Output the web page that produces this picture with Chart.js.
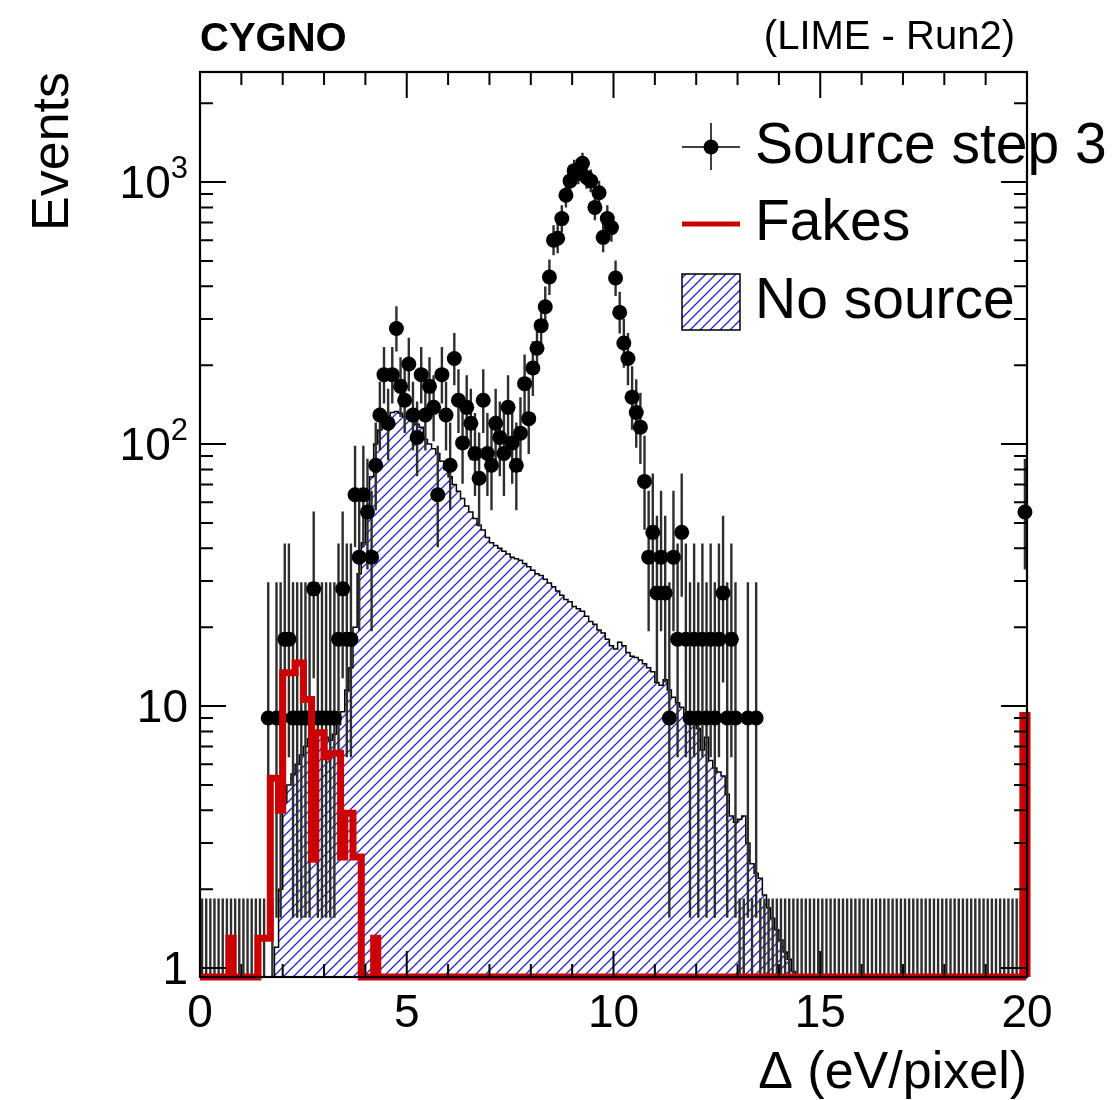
<!DOCTYPE html>
<html>
<head>
<meta charset="utf-8">
<title>CYGNO - LIME Run2</title>
<script src="https://cdn.jsdelivr.net/npm/chart.js@4.4.0/dist/chart.umd.min.js"></script>
<style>
    html, body { margin: 0; padding: 0; background: #fff; }
    #wrap { width: 1113px; height: 1100px; }
</style>
</head>
<body>
<div id="wrap"><canvas id="deltaChart" width="1113" height="1100"></canvas></div>
<script>
// Binning of the histograms: 200 bins of 0.1 eV/pixel from 0 to 20
const binLow = 0;
const binWidth = 0.1;
const nBins = 200;

// Source step 3 (weighted events per bin)
const sourceStep3 = [
    0, 0, 0, 0, 0, 0, 0, 0, 0, 0,
    0, 0, 0, 0, 0, 0, 9, 0, 9, 9,
    18, 18, 9, 9, 9, 9, 9, 28, 9, 9,
    9, 9, 9, 18, 28, 18, 18, 64, 37, 64,
    55, 37, 83, 129, 184, 120, 184, 276, 166, 147,
    202, 129, 106, 184, 129, 166, 138, 64, 184, 129,
    83, 212, 147, 101, 138, 120, 92, 74, 147, 92,
    83, 120, 106, 92, 138, 101, 83, 110, 170, 125,
    195, 232, 283, 334, 434, 600, 610, 725, 890, 1010,
    1105, 1080, 1180, 1040, 1010, 800, 910, 615, 725, 670,
    430, 318, 243, 212, 151, 132, 116, 72, 37, 46,
    27, 37, 27, 9, 37, 18, 46, 18, 9, 18,
    9, 18, 9, 18, 9, 18, 27, 9, 18, 9,
    0, 0, 9, 0, 9, 0, 0, 0, 0, 0,
    0, 0, 0, 0, 0, 0, 0, 0, 0, 0,
    0, 0, 0, 0, 0, 0, 0, 0, 0, 0,
    0, 0, 0, 0, 0, 0, 0, 0, 0, 0,
    0, 0, 0, 0, 0, 0, 0, 0, 0, 0,
    0, 0, 0, 0, 0, 0, 0, 0, 0, 0,
    0, 0, 0, 0, 0, 0, 0, 0, 0, 55
];

// No source (normalised background)
const noSource = [
    0, 0, 0, 0, 0, 0, 0, 0, 0, 0,
    0, 0, 0, 0, 0, 0, 0, 0, 1.2, 2.0,
    4.3, 5.0, 5.5, 6.0, 6.5, 7.0, 7.5, 7.8, 8.0, 8.0,
    7.6, 7.4, 7.8, 8.5, 9.5, 11.5, 14, 20, 32, 42,
    58, 75, 100, 113, 122, 128, 132, 133, 131, 127,
    125, 122, 119, 116, 104, 100, 96, 92, 86, 80,
    75, 70, 66, 62, 58, 55, 52, 49, 47, 44,
    42, 41, 40, 39, 38, 37, 36.5, 36, 35, 34,
    33, 32, 31.5, 30.5, 29.5, 28.5, 27.5, 26.5, 25.5, 25,
    24, 23.5, 23, 22, 21, 20.5, 19.5, 19, 18, 17,
    16.5, 17.5, 17, 16, 15.5, 15.3, 15, 14.5, 14, 13.5,
    12.3, 12, 12.6, 11.5, 10.8, 10.3, 9.9, 9.3, 8.8, 8.5,
    8.2, 6.8, 7.6, 6.2, 5.8, 5.6, 5.4, 4.6, 3.8, 3.6,
    3.7, 3.8, 3.0, 2.5, 2.3, 2.2, 1.9, 1.7, 1.55, 1.4,
    1.28, 1.15, 1.08, 0.97, 0, 0, 0, 0, 0, 0,
    0, 0, 0, 0, 0, 0, 0, 0, 0, 0,
    0, 0, 0, 0, 0, 0, 0, 0, 0, 0,
    0, 0, 0, 0, 0, 0, 0, 0, 0, 0,
    0, 0, 0, 0, 0, 0, 0, 0, 0, 0,
    0, 0, 0, 0, 0, 0, 0, 0, 0, 8
];

// Fakes
const fakes = [
    0, 0, 0, 0, 0, 0, 0, 1.3, 0, 0,
    0, 0, 0, 0, 1.3, 1.3, 1.3, 5.3, 5.3, 4.0,
    13.4, 13.4, 13.4, 14.6, 14.6, 10.6, 10.6, 2.6, 7.9, 7.9,
    6.4, 6.6, 6.6, 6.6, 2.65, 3.9, 3.9, 2.65, 2.65, 0,
    0, 0, 1.3, 0, 0, 0, 0, 0, 0, 0,
    0, 0, 0, 0, 0, 0, 0, 0, 0, 0,
    0, 0, 0, 0, 0, 0, 0, 0, 0, 0,
    0, 0, 0, 0, 0, 0, 0, 0, 0, 0,
    0, 0, 0, 0, 0, 0, 0, 0, 0, 0,
    0, 0, 0, 0, 0, 0, 0, 0, 0, 0,
    0, 0, 0, 0, 0, 0, 0, 0, 0, 0,
    0, 0, 0, 0, 0, 0, 0, 0, 0, 0,
    0, 0, 0, 0, 0, 0, 0, 0, 0, 0,
    0, 0, 0, 0, 0, 0, 0, 0, 0, 0,
    0, 0, 0, 0, 0, 0, 0, 0, 0, 0,
    0, 0, 0, 0, 0, 0, 0, 0, 0, 0,
    0, 0, 0, 0, 0, 0, 0, 0, 0, 0,
    0, 0, 0, 0, 0, 0, 0, 0, 0, 0,
    0, 0, 0, 0, 0, 0, 0, 0, 0, 0,
    0, 0, 0, 0, 0, 0, 0, 0, 0, 9.2
];

// Per-event weight of the source sample and Poisson (Garwood) intervals
const eventWeight = 9.2;
const garwoodLow = [0, 0.173, 0.708, 1.367, 2.086, 2.840, 3.620, 4.419, 5.232, 6.057, 6.891];
const garwoodHigh = [1.841, 3.300, 4.638, 5.918, 7.163, 8.382, 9.584, 10.77, 11.95, 13.11, 14.27];

// Axes
const xMin = 0, xMax = 20;
const yMin = 0.924, yMax = 2630;
const xTickValues = [0, 5, 10, 15, 20];
const xTickLabels = ['0', '5', '10', '15', '20'];
const yTickValues = [1, 10, 100, 1000];
const yTickLabels = ['1', '10', '10', '10'];
const yTickExponents = ['', '', '2', '3'];
const legendLabels = ['Source step 3', 'Fakes', 'No source'];

const fontFamily = '"Liberation Sans", Arial, Helvetica, sans-serif';
const redColor = '#cc0000';
const hatchColor = '#2424d4';
const markerRadius = 7.5;

// Step histogram: one point per bin low edge, closing on the last edge
function histSteps(values) {
    const pts = values.map(function(v, i) {
        return { x: binLow + i * binWidth, y: v > 0 ? v : yMin };
    });
    pts.push({ x: binLow + nBins * binWidth, y: values[nBins - 1] > 0 ? values[nBins - 1] : yMin });
    pts.push({ x: binLow + nBins * binWidth, y: yMin });
    return pts;
}

// Markers at the bin centres, empty bins are not drawn
function binPoints(values) {
    return values.map(function(v, i) {
        return { x: binLow + (i + 0.5) * binWidth, y: v > 0 ? v : null };
    });
}

function makeHatch(ctx, size) {
    const c = document.createElement('canvas');
    c.width = size;
    c.height = size;
    const g = c.getContext('2d');
    g.strokeStyle = hatchColor;
    g.lineWidth = 1.3;
    g.beginPath();
    g.moveTo(0, size); g.lineTo(size, 0);
    g.moveTo(-1, 1); g.lineTo(1, -1);
    g.moveTo(size - 1, size + 1); g.lineTo(size + 1, size - 1);
    g.stroke();
    return ctx.createPattern(c, 'repeat');
}

// Vertical error bars of the source points
const errorBarPlugin = {
    id: 'errorBars',
    beforeDatasetDraw(chart, args) {
        if (args.index !== 1) return;
        const { ctx, chartArea: a } = chart;
        const x = chart.scales.x, y = chart.scales.y;
        ctx.save();
        ctx.beginPath();
        ctx.rect(a.left, a.top, a.right - a.left, a.bottom - a.top);
        ctx.clip();
        ctx.strokeStyle = '#2e2e2e';
        ctx.lineWidth = 2.4;
        ctx.beginPath();
        sourceStep3.forEach(function(v, i) {
            const n = Math.round(v / eventWeight);
            let lo, hi;
            if (n === 0) {
                lo = 0;
                hi = garwoodHigh[0];
            } else if (n < garwoodLow.length) {
                lo = v * garwoodLow[n] / n;
                hi = v * garwoodHigh[n] / n;
            } else {
                lo = v * (n - Math.sqrt(n)) / n;
                hi = v * (n + Math.sqrt(n) + 1) / n;
            }
            const px = x.getPixelForValue(binLow + (i + 0.5) * binWidth);
            ctx.moveTo(px, lo > yMin ? y.getPixelForValue(lo) : a.bottom);
            ctx.lineTo(px, y.getPixelForValue(hi));
        });
        ctx.stroke();
        ctx.restore();
    }
};

// ROOT style frame, inner ticks, labels, titles and legend
const rootStylePlugin = {
    id: 'rootStyle',
    afterDraw(chart) {
        const { ctx, chartArea: a } = chart;
        const x = chart.scales.x, y = chart.scales.y;
        const majorLen = 26, minorLen = 13;

        ctx.save();
        ctx.strokeStyle = '#000';
        ctx.lineWidth = 2;
        ctx.beginPath();
        // x ticks, bottom and top
        for (let v = xMin; v <= xMax; v += 1) {
            const px = x.getPixelForValue(v);
            const len = (v % 5 === 0) ? majorLen : minorLen;
            ctx.moveTo(px, a.bottom); ctx.lineTo(px, a.bottom - len);
            ctx.moveTo(px, a.top); ctx.lineTo(px, a.top + len);
        }
        // y ticks, left and right
        yTickValues.forEach(function(decade) {
            for (let m = 1; m <= 9; m++) {
                const v = m * decade;
                if (v < yMin || v > yMax) continue;
                const py = y.getPixelForValue(v);
                const len = m === 1 ? majorLen : minorLen;
                ctx.moveTo(a.left, py); ctx.lineTo(a.left + len, py);
                ctx.moveTo(a.right, py); ctx.lineTo(a.right - len, py);
            }
        });
        ctx.stroke();
        ctx.lineWidth = 2.2;
        ctx.strokeRect(a.left, a.top, a.right - a.left, a.bottom - a.top);

        // tick labels
        ctx.fillStyle = '#000';
        ctx.font = '46px ' + fontFamily;
        ctx.textAlign = 'center';
        ctx.textBaseline = 'alphabetic';
        xTickValues.forEach(function(v, k) {
            ctx.fillText(xTickLabels[k], x.getPixelForValue(v), a.bottom + 50);
        });
        yTickValues.forEach(function(v, k) {
            const py = y.getPixelForValue(v);
            let right = a.left - 12;
            ctx.textAlign = 'right';
            if (yTickExponents[k]) {
                ctx.font = '31px ' + fontFamily;
                ctx.fillText(yTickExponents[k], right, py - 4);
                right -= ctx.measureText(yTickExponents[k]).width;
            }
            ctx.font = '46px ' + fontFamily;
            ctx.fillText(yTickLabels[k], right, py + 16);
        });

        // axis titles
        ctx.font = '52px ' + fontFamily;
        ctx.textAlign = 'right';
        ctx.fillText('\u0394 (eV/pixel)', a.right, 1088);
        ctx.save();
        ctx.translate(68, a.top);
        ctx.rotate(-Math.PI / 2);
        ctx.fillText('Events', 0, 0);
        ctx.restore();

        // header
        ctx.font = 'bold 40px ' + fontFamily;
        ctx.textAlign = 'left';
        ctx.fillText('CYGNO', a.left, 51);
        ctx.font = '40px ' + fontFamily;
        ctx.textAlign = 'right';
        ctx.fillText('(LIME - Run2)', 1015, 49);

        // legend
        const symL = 682, symR = 740, symC = 711;
        ctx.strokeStyle = '#000';
        ctx.lineWidth = 1.5;
        ctx.beginPath();
        ctx.moveTo(symL, 147); ctx.lineTo(symR, 147);
        ctx.moveTo(symC, 123); ctx.lineTo(symC, 170);
        ctx.stroke();
        ctx.beginPath();
        ctx.arc(symC, 147, markerRadius, 0, Math.PI * 2);
        ctx.fillStyle = '#000';
        ctx.fill();

        ctx.strokeStyle = redColor;
        ctx.lineWidth = 5;
        ctx.beginPath();
        ctx.moveTo(symL, 224); ctx.lineTo(symR, 224);
        ctx.stroke();

        ctx.fillStyle = chart.data.datasets[2].backgroundColor;
        ctx.fillRect(symL, 274, symR - symL, 56);
        ctx.strokeStyle = '#000';
        ctx.lineWidth = 1.5;
        ctx.strokeRect(symL, 274, symR - symL, 56);

        ctx.fillStyle = '#000';
        ctx.font = '57px ' + fontFamily;
        ctx.textAlign = 'left';
        ctx.fillText(legendLabels[0], 755, 163);
        ctx.fillText(legendLabels[1], 755, 240);
        ctx.fillText(legendLabels[2], 755, 318);
        ctx.restore();
    }
};

document.addEventListener('DOMContentLoaded', function() {
    const canvas = document.getElementById('deltaChart');
    const ctx = canvas.getContext('2d');
    const hatch = makeHatch(ctx, 10);

    new Chart(ctx, {
        type: 'line',
        data: {
            datasets: [
                {
                    label: legendLabels[1],
                    data: histSteps(fakes),
                    stepped: 'before',
                    borderColor: redColor,
                    borderWidth: 7,
                    borderJoinStyle: 'miter',
                    borderCapStyle: 'butt',
                    pointRadius: 0,
                    fill: false,
                    order: 0,
                    clip: 5
                },
                {
                    label: legendLabels[0],
                    data: binPoints(sourceStep3),
                    showLine: false,
                    pointRadius: markerRadius,
                    pointBackgroundColor: '#000',
                    pointBorderColor: '#000',
                    pointBorderWidth: 0,
                    order: 1,
                    clip: false
                },
                {
                    label: legendLabels[2],
                    data: histSteps(noSource),
                    stepped: 'before',
                    borderColor: '#000',
                    borderWidth: 1.5,
                    backgroundColor: hatch,
                    fill: 'start',
                    pointRadius: 0,
                    order: 2
                }
            ]
        },
        options: {
            responsive: false,
            animation: false,
            events: [],
            layout: {
                padding: { left: 200, top: 72, right: 86, bottom: 123 }
            },
            scales: {
                x: { type: 'linear', min: xMin, max: xMax, display: false },
                y: { type: 'logarithmic', min: yMin, max: yMax, display: false }
            },
            plugins: {
                legend: { display: false },
                tooltip: { enabled: false }
            }
        },
        plugins: [errorBarPlugin, rootStylePlugin]
    });
});
</script>
</body>
</html>
